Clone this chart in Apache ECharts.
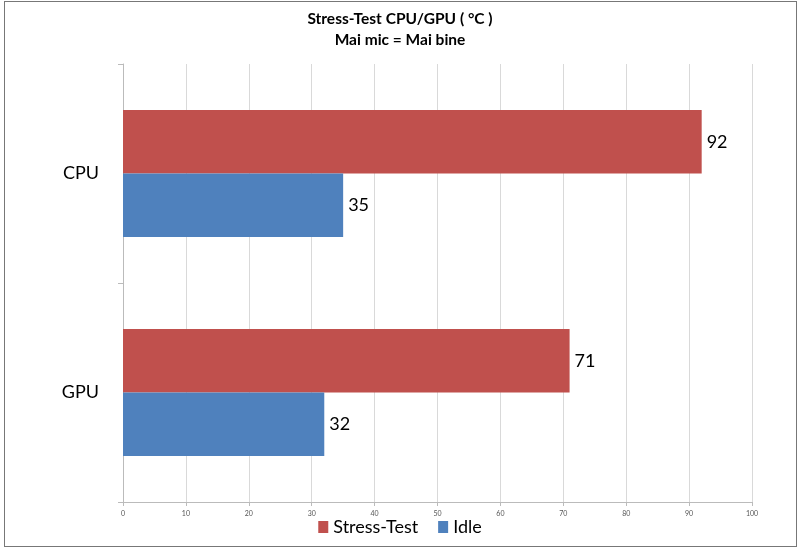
<!DOCTYPE html>
<html><head><meta charset="utf-8">
<script src="https://cdn.jsdelivr.net/npm/echarts@6/dist/echarts.min.js"></script>
<style>
html,body{margin:0;padding:0;background:#fff;}
#c{width:800px;height:549px;}
#frame{position:absolute;left:4px;top:1px;width:793px;height:546px;border:1px solid #777;box-sizing:border-box;pointer-events:none;}
</style></head>
<body>
<div id="c"></div>
<div id="frame"></div>
<script>
const categories = ['CPU', 'GPU'];
const seriesNames = ['Stress-Test', 'Idle'];
const stressValues = [92, 71];
const idleValues = [35, 32];
const xTicks = [0, 10, 20, 30, 40, 50, 60, 70, 80, 90, 100];

const chart = echarts.init(document.getElementById('c'));
const font = 'Lato, "Open Sans", sans-serif';
chart.setOption({
  animation: false,
  title: {
    text: 'Stress-Test CPU/GPU ( °C )\nMai mic = Mai bine',
    left: 'center', top: 3,
    textStyle: {fontFamily: font, fontSize: 15.5, fontWeight: 'bold', color: '#000', lineHeight: 21}
  },
  legend: {
    bottom: 8, left: 'center',
    itemWidth: 10, itemHeight: 12, itemGap: 20,
    icon: 'rect',
    textStyle: {fontFamily: font, fontSize: 18, color: '#000'},
    data: seriesNames
  },
  grid: {left: 123, right: 48, top: 64, bottom: 47, containLabel: false},
  xAxis: {
    type: 'value', min: xTicks[0], max: xTicks[xTicks.length - 1], interval: 10,
    axisLine: {show: true, lineStyle: {color: '#bbb'}},
    axisTick: {show: true, length: 4, lineStyle: {color: '#bbb'}},
    splitLine: {show: true, lineStyle: {color: '#d9d9d9'}},
    axisLabel: {fontFamily: font, fontSize: 7, color: '#555', margin: 8}
  },
  yAxis: {
    type: 'category', data: categories, inverse: true,
    axisLine: {show: true, lineStyle: {color: '#bbb'}},
    axisTick: {show: true, length: 5, lineStyle: {color: '#bbb'}},
    axisLabel: {fontFamily: font, fontSize: 18, color: '#000', margin: 24}
  },
  series: [
    {
      name: seriesNames[0], type: 'bar', data: stressValues,
      itemStyle: {color: '#C0504D'}, barCategoryGap: '42%', barGap: '0%',
      label: {show: true, position: 'right', fontFamily: font, fontSize: 18, color: '#000', distance: 5}
    },
    {
      name: seriesNames[1], type: 'bar', data: idleValues,
      itemStyle: {color: '#4F81BD'}, barCategoryGap: '42%', barGap: '0%',
      label: {show: true, position: 'right', fontFamily: font, fontSize: 18, color: '#000', distance: 5}
    }
  ]
});
</script>
</body></html>
